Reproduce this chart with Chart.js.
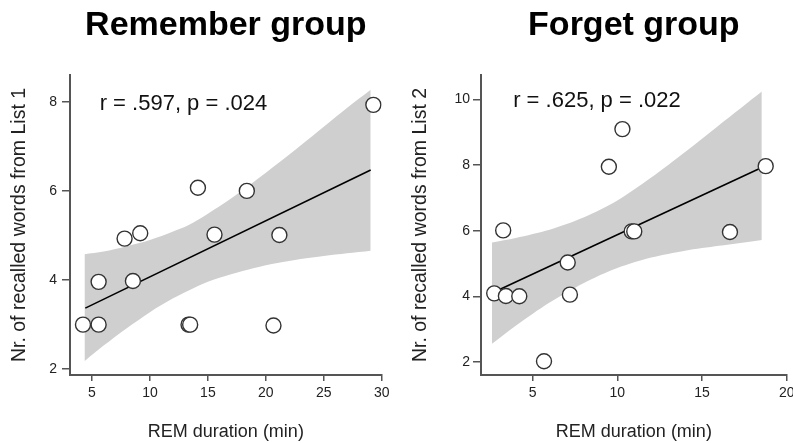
<!DOCTYPE html>
<html>
<head>
<meta charset="utf-8">
<script src="https://cdn.jsdelivr.net/npm/chart.js@4.4.1/dist/chart.umd.min.js"></script>
<style>
html, body { margin: 0; padding: 0; background: #fff; overflow: hidden; }
#wrap { position: relative; width: 793px; height: 443px; overflow: hidden; }
canvas { position: absolute; top: 0; }
#remChart { left: 0; }
#forChart { left: 400px; }
</style>
</head>
<body>
<div id="wrap">
  <canvas id="remChart" width="400" height="443"></canvas>
  <canvas id="forChart" width="400" height="443"></canvas>
</div>
<script>
// Remember group
const remTitle = 'Remember group';
const remStat = 'r = .597, p = .024';
const remYLabel = 'Nr. of recalled words from List 1';
const remX = [4.22, 5.57, 5.57, 7.81, 9.16, 8.53, 13.33, 13.47, 14.14, 15.57, 18.36, 20.66, 21.17, 29.28];
const remY = [3.0, 3.96, 3.0, 4.93, 5.05, 3.98, 3.0, 3.0, 6.07, 5.02, 6.0, 2.98, 5.01, 7.93];
const remLineX = [4.42, 29.05];
const remLineY = [3.37, 6.47];
const remBandX = [4.35, 6, 8, 10, 12, 13.3, 15, 17, 19, 21, 23, 25, 27, 29.05];
const remBandUp = [4.58, 4.64, 4.76, 4.90, 5.09, 5.23, 5.49, 5.83, 6.21, 6.61, 7.02, 7.44, 7.86, 8.27];
const remBandLo = [2.18, 2.53, 2.92, 3.28, 3.59, 3.76, 3.96, 4.13, 4.27, 4.38, 4.47, 4.54, 4.60, 4.66];
const remXTicks = [5, 10, 15, 20, 25, 30];
const remYTicks = [2, 4, 6, 8];

// Forget group
const forTitle = 'Forget group';
const forStat = 'r = .625, p = .022';
const forYLabel = 'Nr. of recalled words from List 2';
const forX = [2.73, 3.42, 3.26, 4.21, 5.67, 7.07, 7.2, 9.5, 10.3, 10.85, 11.0, 16.65, 18.76];
const forY = [4.09, 4.01, 6.01, 4.0, 2.02, 5.03, 4.05, 7.95, 9.1, 5.98, 5.98, 5.96, 7.97];
const forLineX = [2.73, 18.53];
const forLineY = [4.13, 7.93];
const forBandX = [2.6, 4, 6, 8, 10, 12, 14, 16, 18.53];
const forBandUp = [5.64, 5.78, 6.03, 6.40, 6.92, 7.62, 8.40, 9.22, 10.25];
const forBandLo = [2.55, 3.10, 3.81, 4.40, 4.86, 5.18, 5.39, 5.54, 5.72];
const forXTicks = [5, 10, 15, 20];
const forYTicks = [2, 4, 6, 8, 10];

const xLabel = 'REM duration (min)';
const FONT = '"Liberation Sans", Arial, sans-serif';

function pairs(xs, ys) {
    return xs.map((x, i) => ({ x: x, y: ys[i] }));
}

// texte r / p dans la zone du graphique
const statText = {
    id: 'statText',
    afterDraw(chart, args, opts) {
        const { ctx, scales } = chart;
        ctx.save();
        ctx.font = '22px ' + FONT;
        ctx.fillStyle = '#111';
        ctx.textBaseline = 'middle';
        ctx.fillText(opts.text, scales.x.getPixelForValue(opts.x), scales.y.getPixelForValue(opts.y));
        ctx.restore();
    }
};

function makeChart(id, c) {
    const axisColor = '#555';
    new Chart(document.getElementById(id), {
        type: 'scatter',
        data: {
            datasets: [
                {
                    data: pairs(c.px, c.py),
                    pointRadius: 7.5,
                    pointBackgroundColor: '#fff',
                    pointBorderColor: '#333',
                    pointBorderWidth: 1.4
                },
                {
                    data: pairs(c.lx, c.ly),
                    showLine: true,
                    borderColor: '#000',
                    borderWidth: 1.6,
                    pointRadius: 0
                },
                {
                    data: pairs(c.bx, c.bu),
                    showLine: true,
                    tension: 0.3,
                    borderColor: 'rgba(0,0,0,0)',
                    borderWidth: 0,
                    pointRadius: 0,
                    backgroundColor: '#cfcfcf',
                    fill: '+1'
                },
                {
                    data: pairs(c.bx, c.bl),
                    showLine: true,
                    tension: 0.3,
                    borderColor: 'rgba(0,0,0,0)',
                    borderWidth: 0,
                    pointRadius: 0
                }
            ]
        },
        options: {
            responsive: false,
            animation: false,
            layout: { padding: { left: 0, right: c.padRight, top: 0, bottom: 0 } },
            plugins: {
                legend: { display: false },
                tooltip: { enabled: false },
                title: {
                    display: true,
                    text: c.title,
                    fullSize: false,
                    color: '#000',
                    font: { family: FONT, size: 34, weight: 'bold', lineHeight: 1.2 },
                    padding: { top: 5, bottom: 29.2 }
                },
                statText: { text: c.stat, x: c.sx, y: c.sy }
            },
            scales: {
                x: {
                    type: 'linear',
                    min: c.xmin,
                    max: c.xmax,
                    afterBuildTicks: s => { s.ticks = c.xt.map(v => ({ value: v })); },
                    afterFit: s => { s.height = 68; },
                    ticks: { color: '#222', font: { family: FONT, size: 14 }, padding: 4, maxRotation: 0 },
                    grid: { display: true, drawOnChartArea: false, drawTicks: true, tickLength: 6, color: axisColor, lineWidth: 1.5 },
                    border: { display: true, color: axisColor, width: 2 },
                    title: { display: true, text: xLabel, color: '#222', font: { family: FONT, size: 18, lineHeight: 1.2 }, padding: { top: 0, bottom: 0 } }
                },
                y: {
                    type: 'linear',
                    min: c.ymin,
                    max: c.ymax,
                    afterBuildTicks: s => { s.ticks = c.yt.map(v => ({ value: v })); },
                    afterFit: s => { s.width = c.yWidth; },
                    ticks: { color: '#222', font: { family: FONT, size: 14 }, padding: c.yPad },
                    grid: { display: true, drawOnChartArea: false, drawTicks: true, tickLength: 8, color: axisColor, lineWidth: 1.5 },
                    border: { display: true, color: axisColor, width: 2 },
                    title: { display: true, text: c.yLabel, color: '#222', font: { family: FONT, size: 19.5, lineHeight: 1.2 }, padding: { top: c.yTitlePad, bottom: 0 } }
                }
            }
        },
        plugins: [statText]
    });
}

makeChart('remChart', {
    title: remTitle, stat: remStat, yLabel: remYLabel,
    px: remX, py: remY, lx: remLineX, ly: remLineY,
    bx: remBandX, bu: remBandUp, bl: remBandLo,
    xt: remXTicks, yt: remYTicks,
    xmin: 3.1, xmax: 30, ymin: 1.87, ymax: 8.6,
    sx: 5.66, sy: 7.96,
    padRight: 18.3, yWidth: 70, yPad: 5, yTitlePad: 7.8
});

makeChart('forChart', {
    title: forTitle, stat: forStat, yLabel: forYLabel,
    px: forX, py: forY, lx: forLineX, ly: forLineY,
    bx: forBandX, bu: forBandUp, bl: forBandLo,
    xt: forXTicks, yt: forYTicks,
    xmin: 1.95, xmax: 20, ymin: 1.6, ymax: 10.75,
    sx: 3.85, sy: 9.96,
    padRight: 13.3, yWidth: 81, yPad: 3, yTitlePad: 9.1
});
</script>
</body>
</html>
